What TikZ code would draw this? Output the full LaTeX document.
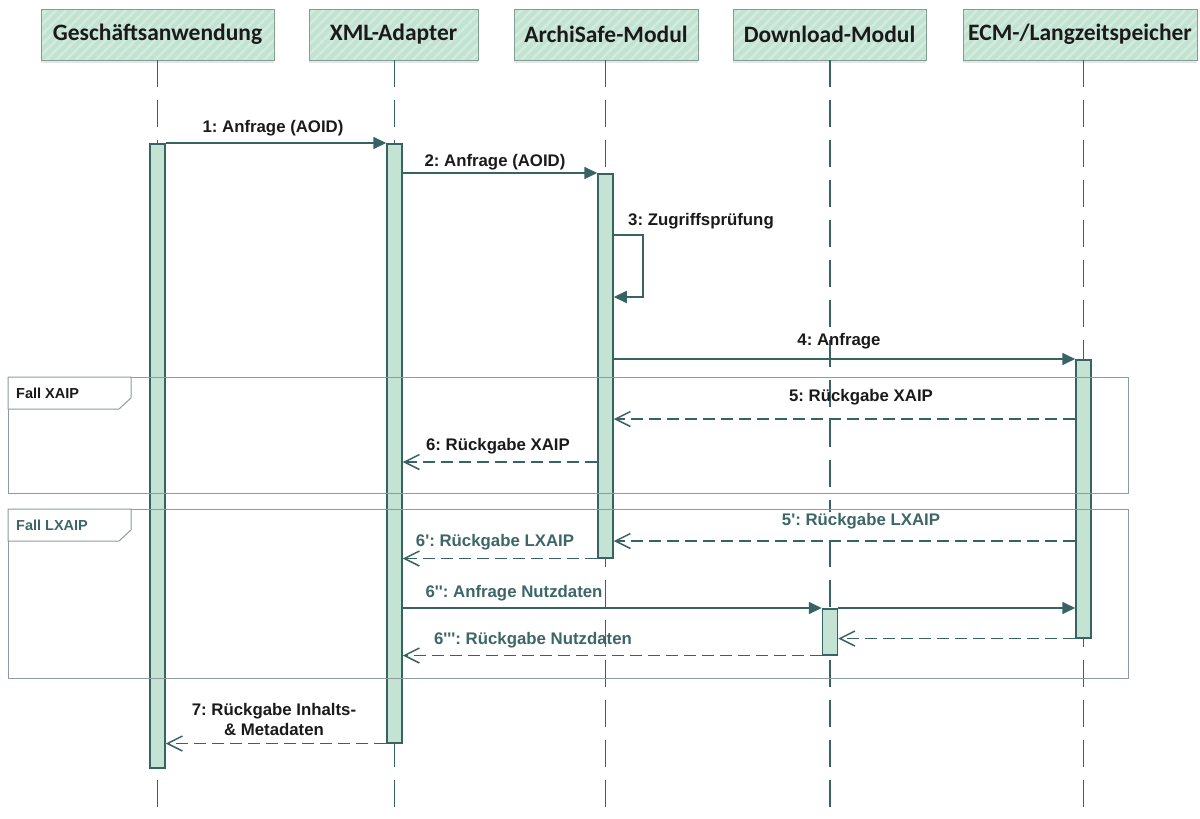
\documentclass[tikz,border=0pt]{standalone}
\usepackage{fontspec}
\newfontfamily\hdrfont{Carlito}
\newfontfamily\lblfont{Liberation Sans}
\usetikzlibrary{arrows.meta, patterns.meta, shadows}
\frenchspacing

\definecolor{lline}{RGB}{56,99,99}
\definecolor{barfill}{RGB}{196,227,211}
\definecolor{hdrfill}{RGB}{194,226,210}
\definecolor{hdrstripe}{RGB}{210,235,222}
\definecolor{hdrborder}{RGB}{128,158,146}
\definecolor{frameline}{RGB}{140,156,156}
\definecolor{tealtext}{RGB}{61,102,102}
\definecolor{blacktext}{RGB}{26,26,26}

\tikzset{
  hdr/.style={draw=hdrborder, line width=1pt, inner sep=0pt, minimum height=51pt,
    drop shadow={shadow xshift=0pt, shadow yshift=-3pt, opacity=0.2},
    preaction={fill=hdrfill},
    pattern={Lines[angle=45, distance=7pt, line width=2.5pt]}, pattern color=hdrstripe,
    font=\hdrfont\bfseries\fontsize{23.5}{26}\selectfont, text=blacktext},
  life/.style={draw=lline, line width=1.3pt, dash pattern=on 27pt off 13pt},
  bar/.style={draw=lline, fill=barfill, line width=1.5pt, inner sep=0pt,
    minimum width=15pt, anchor=north},
  msg/.style={draw=lline, line width=1.7pt, -{Triangle[length=13pt, width=12pt]}},
  ret/.style={draw=lline, line width=1.7pt, dash pattern=on 12pt off 6pt,
    -{Straight Barb[length=15pt, width=15pt, line width=1.5pt]}},
  lbl/.style={font=\lblfont\bfseries\fontsize{16.8}{20}\selectfont, text=blacktext, inner sep=1pt},
  lblt/.style={lbl, text=tealtext},
  frm/.style={draw=frameline, line width=1pt},
  tab/.style={draw=frameline, fill=white, line width=1pt},
  tablbl/.style={font=\lblfont\bfseries\fontsize{14.5}{17}\selectfont, anchor=west, inner sep=0pt}
}

\begin{document}
\begin{tikzpicture}[x=1pt, y=-1pt]
	\useasboundingbox (0,0) rectangle (1200,819);
	% participants
	\node[hdr, minimum width=233pt] (ga) at (157.5,34.5) {Geschäftsanwendung};
	\node[hdr, minimum width=169pt] (xa) at (393.5,34.5) {XML-Adapter};
	\node[hdr, minimum width=184pt] (am) at (606,34.5) {ArchiSafe-Modul};
	\node[hdr, minimum width=193pt] (dm) at (829.5,34.5) {Download-Modul};
	\node[hdr, minimum width=234pt] (ecm) at (1080,34.5) {ECM-/Langzeitspeicher};
	% lifelines
	\foreach \x in {157.5, 394.5, 605.5, 830, 1083.5}
		\draw[life] (\x,60) -- (\x,819);
	% activations
	\node[bar, minimum height=624pt] (barG) at (157.5,143) {};
	\node[bar, minimum height=599pt] (barX) at (394.5,143) {};
	\node[bar, minimum height=384pt] (barA) at (605.5,173) {};
	\node[bar, minimum height=46pt] (barD) at (830,608) {};
	\node[bar, minimum height=278pt] (barE) at (1083.5,359) {};
	% fragments
	\draw[frm] (8,377) rectangle (1128,493);
	\draw[tab] (8,377) -- (131,377) -- (131,398) -- (119,409) -- (8,409) -- cycle;
	\node[tablbl, text=blacktext] (fx) at (16,393) {Fall XAIP};
	\draw[frm] (8,509) rectangle (1128,678);
	\draw[tab] (8,509) -- (131,509) -- (131,530) -- (119,541) -- (8,541) -- cycle;
	\node[tablbl, text=tealtext] (fl) at (16,525) {Fall LXAIP};
	% messages
	\draw[msg] (barG.north east) -- (barX.north west);
	\node[lbl] (m1) at (273,128) {1: Anfrage (AOID)};
	\draw[msg] (barX.east |- barA.north) -- (barA.north west);
	\node[lbl] (m2) at (495,162) {2: Anfrage (AOID)};
	\draw[msg] (barA.east |- 0,235) -- (643,235) -- (643,297) -- (barA.east |- 0,297);
	\node[lbl, anchor=west] (m3) at (627,221) {3: Zugriffsprüfung};
	\draw[msg] (barA.east |- barE.north) -- (barE.north west);
	\node[lbl] (m4) at (839,341) {4: Anfrage};
	\draw[ret] (barE.west |- 0,419) -- (barA.east |- 0,419);
	\node[lbl] (m5) at (861,397) {5: Rückgabe XAIP};
	\draw[ret] (barA.west |- 0,462) -- (barX.east |- 0,462);
	\node[lbl] (m6) at (498,446) {6: Rückgabe XAIP};
	\draw[ret] (barE.west |- 0,541) -- (barA.east |- 0,541);
	\node[lblt, fill=white] (m5b) at (861,521) {5\textquotesingle: Rückgabe LXAIP};
	\draw[ret] (barA.south west) -- (barX.east |- barA.south);
	\node[lblt] (m6b) at (495,542) {6\textquotesingle: Rückgabe LXAIP};
	\draw[msg] (barX.east |- barD.north) -- (barD.north west);
	\node[lblt] (m6c) at (514,593) {6\textquotesingle\textquotesingle: Anfrage Nutzdaten};
	\draw[msg] (barD.north east) -- (barE.west |- barD.north);
	\draw[ret] (barE.south west) -- (barD.east |- barE.south);
	\draw[ret] (barD.south west) -- (barX.east |- barD.south);
	\node[lblt] (m6d) at (533,640) {6\textquotesingle\textquotesingle\textquotesingle: Rückgabe Nutzdaten};
	\draw[ret] (barX.south west) -- (barG.east |- barX.south);
	\node[lbl, align=center] (m7) at (274,719) {7: Rückgabe Inhalts-\\\& Metadaten};
\end{tikzpicture}
\end{document}
